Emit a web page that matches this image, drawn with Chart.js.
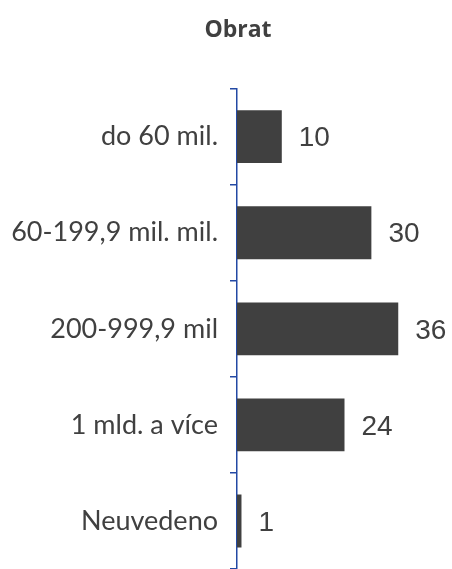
<!DOCTYPE html>
<html>
<head>
<meta charset="utf-8">
<script src="https://cdn.jsdelivr.net/npm/chart.js@4"></script>
<style>
    html, body { margin: 0; padding: 0; background: #fff; }
    #wrap { width: 452px; height: 569px; }
</style>
</head>
<body>
<div id="wrap"><canvas id="obratChart"></canvas></div>
<script>
// Obrat - rozdeleni podle obratu
const categories = ['do 60 mil.', '60-199,9 mil. mil.', '200-999,9 mil', '1 mld. a více', 'Neuvedeno'];
const values = [10, 30, 36, 24, 1];

const textColor = '#404040';
const axisColor = '#2349a4';

// value labels to the right of each bar
const valueLabels = {
    id: 'valueLabels',
    afterLayout(chart) {
        // let the long category labels use the left padding too
        chart.scales.y.left = 0;
    },
    afterDatasetsDraw(chart) {
        const ctx = chart.ctx;
        const meta = chart.getDatasetMeta(0);
        ctx.save();
        ctx.font = '28px "Liberation Sans", Arial, sans-serif';
        ctx.fillStyle = textColor;
        ctx.textAlign = 'left';
        ctx.textBaseline = 'middle';
        meta.data.forEach((bar, i) => {
            ctx.fillText(String(values[i]), bar.x + 17, bar.y + 2);
        });
        ctx.restore();
    }
};

const ctx = document.getElementById('obratChart').getContext('2d');
new Chart(ctx, {
    type: 'bar',
    data: {
        labels: categories,
        datasets: [{
            data: values,
            backgroundColor: '#404040',
            borderWidth: 0,
            categoryPercentage: 0.55,
            barPercentage: 1
        }]
    },
    options: {
        indexAxis: 'y',
        responsive: true,
        maintainAspectRatio: false,
        animation: false,
        layout: { padding: { top: 0, right: 0, bottom: 0, left: 24 } },
        plugins: {
            legend: { display: false },
            tooltip: { enabled: false },
            title: {
                display: true,
                text: 'Obrat',
                color: textColor,
                font: { family: '"Open Sans", sans-serif', size: 23, weight: 'bold' },
                padding: { top: 17, bottom: 44 }
            }
        },
        scales: {
            x: {
                display: false,
                min: 0,
                max: 48
            },
            y: {
                afterFit(scale) {
                    scale.width = 213;
                    scale.paddingTop = 0;
                    scale.paddingBottom = 0;
                },
                border: { display: true, color: axisColor, width: 1.5 },
                grid: {
                    offset: true,
                    drawOnChartArea: false,
                    drawTicks: true,
                    tickLength: 7,
                    color: axisColor,
                    lineWidth: 1.5
                },
                ticks: {
                    color: textColor,
                    padding: 12,
                    font: { family: 'Lato, sans-serif', size: 27 }
                }
            }
        }
    },
    plugins: [valueLabels]
});
</script>
</body>
</html>
